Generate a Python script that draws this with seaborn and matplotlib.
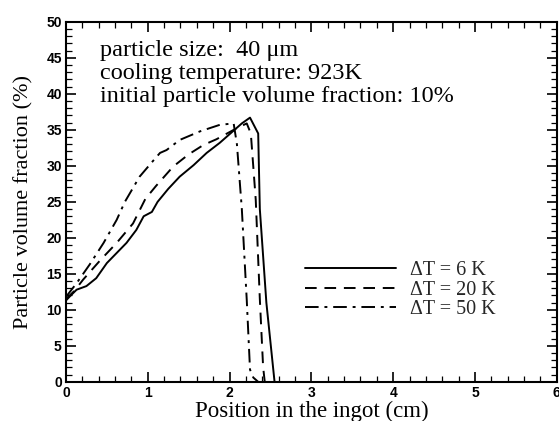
import numpy as np
import pandas as pd
import matplotlib
matplotlib.use("Agg")
import matplotlib.pyplot as plt
from matplotlib.ticker import MultipleLocator
from matplotlib.lines import Line2D
import seaborn as sns

# Particle volume fraction profiles along the ingot for three superheats
x_6k = [0.0, 0.05, 0.13, 0.25, 0.37, 0.5, 0.62, 0.74, 0.86, 0.95, 1.05, 1.12, 1.25,
        1.39, 1.56, 1.72, 1.88, 2.05, 2.15, 2.25, 2.35, 2.37, 2.45, 2.55]
y_6k = [11.3, 11.9, 12.8, 13.3, 14.4, 16.5, 17.9, 19.3, 21.1, 23.0, 23.6, 25.0, 26.8,
        28.5, 30.1, 31.8, 33.2, 34.9, 35.9, 36.7, 34.5, 24.0, 11.0, 0.0]

x_20k = [0.0, 0.1, 0.21, 0.42, 0.62, 0.82, 0.97, 1.1, 1.31, 1.5, 1.68, 1.84, 2.05,
         2.21, 2.26, 2.32, 2.37, 2.41, 2.43]
y_20k = [11.5, 12.6, 14.2, 16.9, 19.3, 22.0, 25.4, 27.2, 29.9, 31.6, 32.9, 33.7, 35.0,
         35.9, 34.5, 25.3, 11.5, 2.1, 0.0]

x_50k = [0.0, 0.13, 0.29, 0.46, 0.62, 0.72, 0.9, 1.05, 1.15, 1.23, 1.39, 1.64, 1.88,
         2.05, 2.09, 2.15, 2.21, 2.25, 2.29, 2.35]
y_50k = [11.8, 13.7, 16.3, 19.3, 22.5, 25.0, 28.5, 30.5, 31.8, 32.2, 33.6, 34.8, 35.7,
         35.9, 33.0, 24.0, 11.4, 1.7, 0.6, 0.0]

labels = ["ΔT = 6 K", "ΔT = 20 K", "ΔT = 50 K"]

frames = []
for lab, xs, ys in zip(labels, [x_6k, x_20k, x_50k], [y_6k, y_20k, y_50k]):
    frames.append(pd.DataFrame({"pos": xs, "frac": ys, "case": lab}))
df = pd.concat(frames, ignore_index=True)

sns.set_theme(style="ticks")
serif = "Liberation Serif"
sans = "Liberation Sans"

fig = plt.figure(figsize=(5.59, 4.21), dpi=100)
ax = fig.add_axes([0.118, 0.093, 0.878, 0.855])

dash_styles = {labels[0]: "", labels[1]: (6, 4), labels[2]: (7, 3, 1.5, 3)}
sns.lineplot(data=df, x="pos", y="frac", hue="case", style="case", units="case",
             estimator=None, sort=False, dashes=dash_styles,
             palette=["black"] * 3, linewidth=1.4, legend=False, ax=ax)

ax.set_xlim(0, 6)
ax.set_ylim(0, 50)
ax.xaxis.set_major_locator(MultipleLocator(1))
ax.xaxis.set_minor_locator(MultipleLocator(0.2))
ax.yaxis.set_major_locator(MultipleLocator(5))
ax.yaxis.set_minor_locator(MultipleLocator(1))
ax.tick_params(which="both", direction="in", top=True, right=True, color="black")
ax.tick_params(which="major", length=7, width=1.2)
ax.tick_params(which="minor", length=4, width=0.9)
ax.tick_params(axis="x", which="major", pad=3)
ax.tick_params(axis="y", which="major", pad=3)
for spine in ax.spines.values():
    spine.set_linewidth(1.5)
    spine.set_color("black")
for t in ax.get_xticklabels() + ax.get_yticklabels():
    t.set_fontfamily(sans)
    t.set_fontweight("bold")
    t.set_fontsize(10)
    t.set_color("black")

ax.set_xlabel("Position in the ingot (cm)", family=serif, fontsize=16.5, labelpad=0.5,
              color="black")
ax.set_ylabel("Particle volume fraction (%)", family=serif, fontsize=16, labelpad=9,
              color="black")

info = ["particle size:  40 μm", "cooling temperature: 923K",
        "initial particle volume fraction: 10%"]
for i, line in enumerate(info):
    ax.text(0.07, 0.92 - i * 0.064, line, transform=ax.transAxes, family=serif,
            fontsize=17.5, va="center", ha="left", color="black")

handles = [Line2D([], [], color="black", lw=1.4, ls="-"),
           Line2D([], [], color="black", lw=1.4, ls=(0, (6, 4))),
           Line2D([], [], color="black", lw=1.4, ls=(0, (7, 3, 1.5, 3)))]
leg = ax.legend(handles, labels, loc="upper left", bbox_to_anchor=(0.45, 0.385),
                frameon=False, prop={"family": serif, "size": 14.5},
                handlelength=4.5, handletextpad=0.7, labelspacing=0.0)

fig.savefig("out.png", dpi=100)
